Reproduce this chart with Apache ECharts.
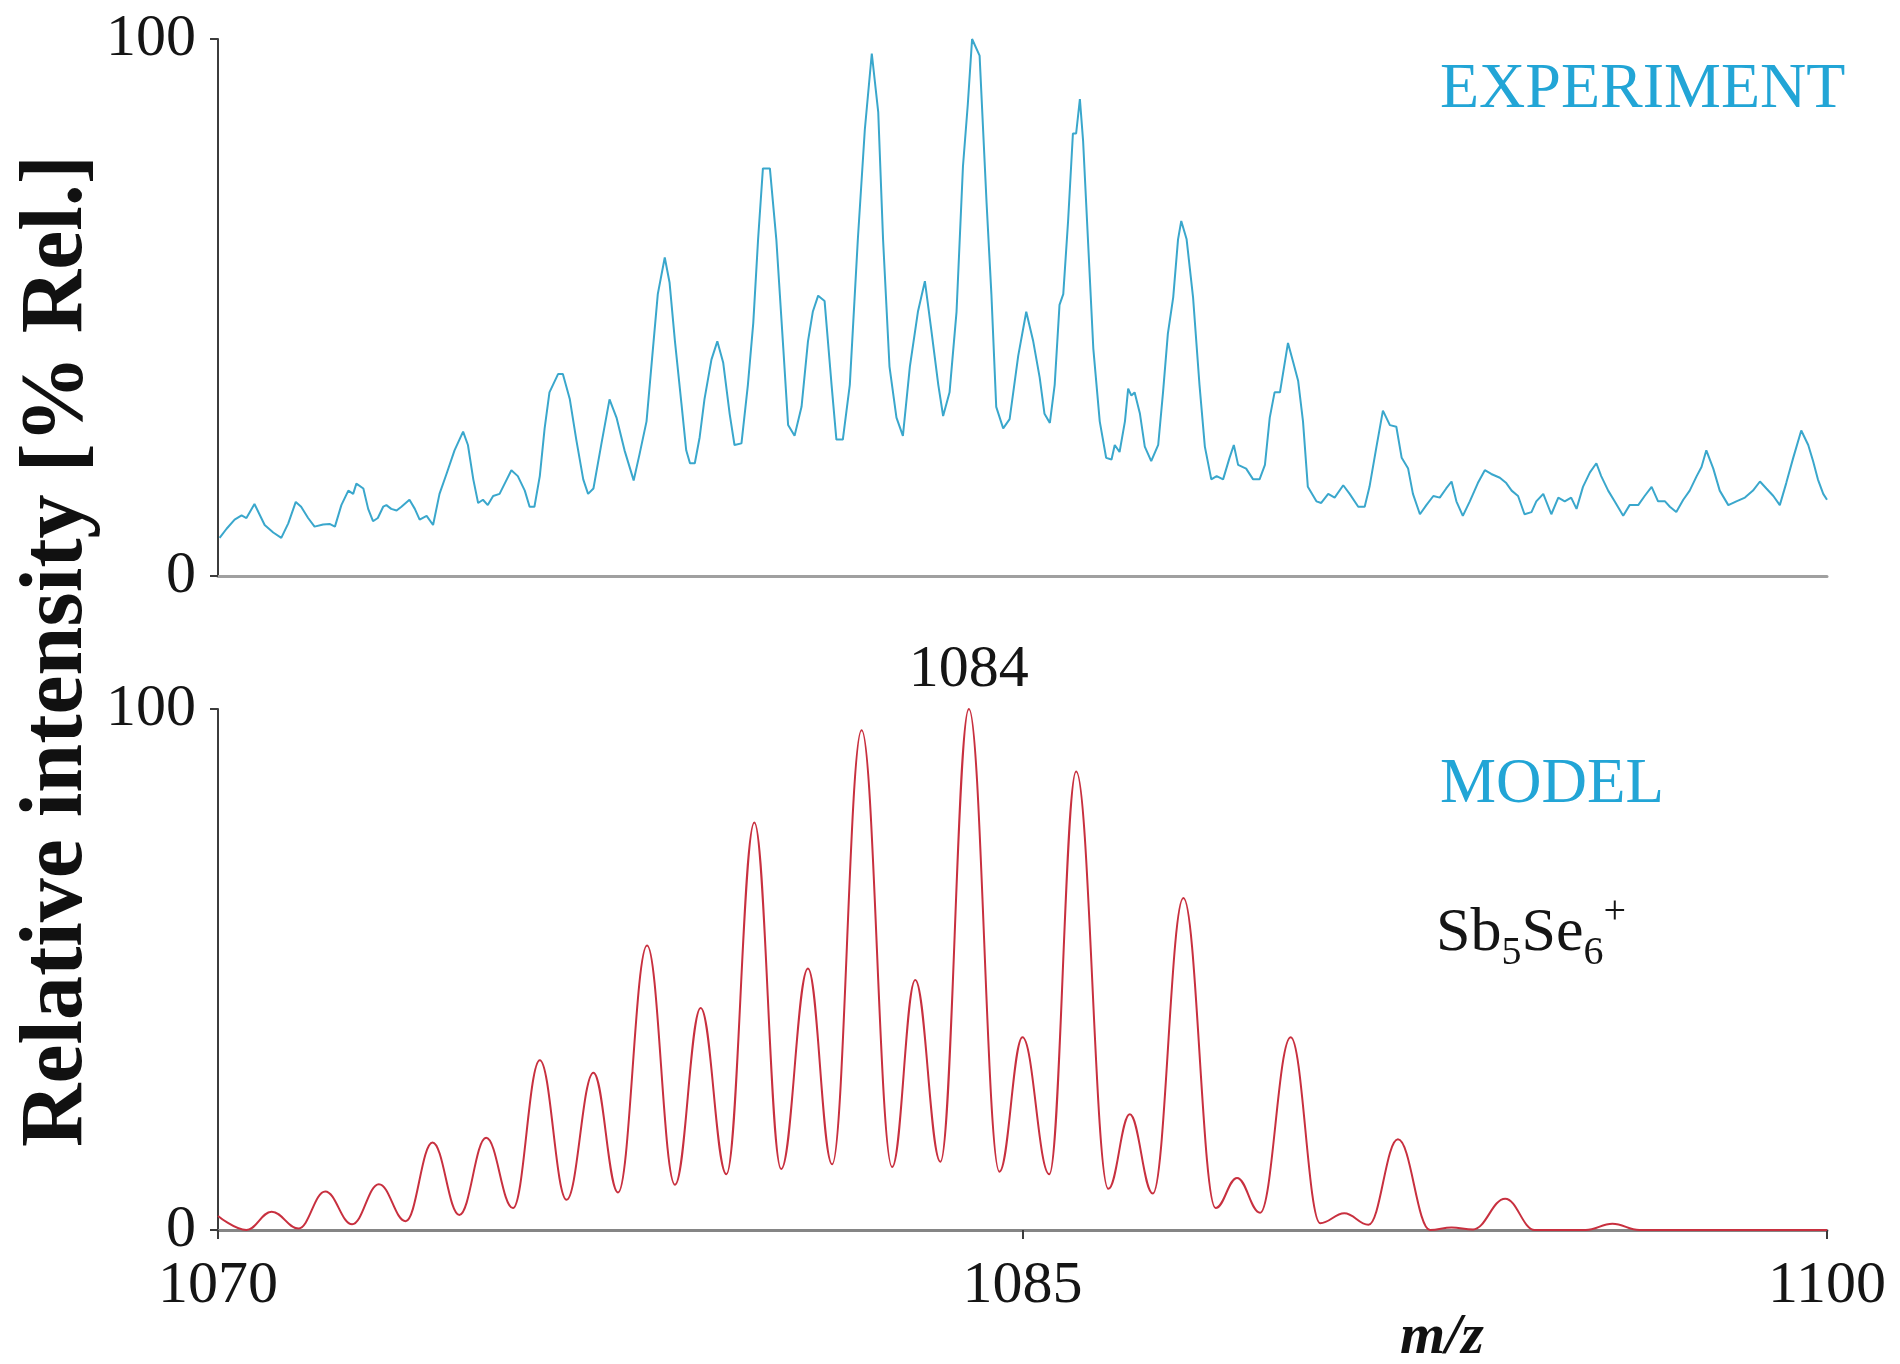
<!DOCTYPE html>
<html>
<head>
<meta charset="utf-8">
<script src="https://cdn.jsdelivr.net/npm/echarts@6/dist/echarts.min.js"></script>
<style>
  html, body { margin: 0; padding: 0; background: #ffffff; }
  #chart { width: 1900px; height: 1364px; }
</style>
</head>
<body>
<div id="chart"></div>
<script>
// Measured spectrum (m/z, relative intensity %)
const expMz = [
  1070.03, 1070.16, 1070.31, 1070.44, 1070.53, 1070.68, 1070.87, 1071.03, 1071.18, 1071.31,
  1071.45, 1071.55, 1071.68, 1071.80, 1071.96, 1072.08, 1072.18, 1072.30, 1072.43, 1072.52,
  1072.58, 1072.71, 1072.80, 1072.89, 1072.98, 1073.08, 1073.14, 1073.23, 1073.33, 1073.42,
  1073.57, 1073.67, 1073.76, 1073.89, 1074.01, 1074.13, 1074.26, 1074.41, 1074.57, 1074.66,
  1074.76, 1074.85, 1074.94, 1075.03, 1075.13, 1075.25, 1075.35, 1075.47, 1075.59, 1075.72,
  1075.81, 1075.90, 1076.00, 1076.09, 1076.18, 1076.34, 1076.43, 1076.56, 1076.68, 1076.81,
  1076.90, 1077.00, 1077.15, 1077.30, 1077.43, 1077.58, 1077.75, 1077.86, 1077.99, 1078.11,
  1078.20, 1078.33, 1078.42, 1078.52, 1078.64, 1078.73, 1078.80, 1078.89, 1078.98, 1079.07,
  1079.20, 1079.31, 1079.42, 1079.54, 1079.63, 1079.76, 1079.88, 1079.98, 1080.07, 1080.16,
  1080.29, 1080.41, 1080.54, 1080.63, 1080.75, 1080.88, 1081.00, 1081.09, 1081.19, 1081.31,
  1081.44, 1081.53, 1081.65, 1081.78, 1081.93, 1082.06, 1082.19, 1082.31, 1082.40, 1082.52,
  1082.65, 1082.77, 1082.90, 1083.05, 1083.18, 1083.30, 1083.43, 1083.52, 1083.64, 1083.77,
  1083.89, 1083.98, 1084.06, 1084.20, 1084.33, 1084.42, 1084.51, 1084.64, 1084.76, 1084.92,
  1085.07, 1085.20, 1085.32, 1085.41, 1085.51, 1085.60, 1085.69, 1085.76, 1085.85, 1085.94,
  1086.00, 1086.07, 1086.13, 1086.22, 1086.32, 1086.44, 1086.56, 1086.66, 1086.72, 1086.81,
  1086.91, 1086.97, 1087.03, 1087.09, 1087.19, 1087.28, 1087.40, 1087.53, 1087.62, 1087.71,
  1087.81, 1087.90, 1087.96, 1088.06, 1088.18, 1088.30, 1088.40, 1088.52, 1088.62, 1088.74,
  1088.86, 1088.94, 1089.02, 1089.17, 1089.30, 1089.42, 1089.52, 1089.61, 1089.70, 1089.80,
  1089.95, 1090.05, 1090.14, 1090.23, 1090.32, 1090.48, 1090.57, 1090.70, 1090.82, 1090.98,
  1091.10, 1091.26, 1091.38, 1091.47, 1091.60, 1091.72, 1091.85, 1091.97, 1092.07, 1092.19,
  1092.28, 1092.41, 1092.53, 1092.66, 1092.78, 1092.90, 1093.00, 1093.09, 1093.21, 1093.34,
  1093.49, 1093.62, 1093.74, 1093.90, 1094.02, 1094.12, 1094.24, 1094.36, 1094.49, 1094.58,
  1094.71, 1094.86, 1094.99, 1095.11, 1095.23, 1095.33, 1095.45, 1095.58, 1095.70, 1095.79,
  1095.92, 1096.04, 1096.20, 1096.32, 1096.48, 1096.60, 1096.73, 1096.85, 1096.98, 1097.07,
  1097.19, 1097.32, 1097.44, 1097.57, 1097.66, 1097.75, 1097.88, 1098.00, 1098.16, 1098.31,
  1098.47, 1098.62, 1098.75, 1098.87, 1099.00, 1099.12, 1099.24, 1099.37, 1099.52, 1099.65,
  1099.74, 1099.83, 1099.93, 1100.00
];
const expIntensity = [
  7.1, 8.8, 10.5, 11.3, 10.8, 13.4, 9.5, 8.1, 7.1, 9.8,
  13.8, 12.9, 10.8, 9.2, 9.6, 9.7, 9.2, 13.2, 15.9, 15.3,
  17.2, 16.3, 12.5, 10.2, 10.8, 12.9, 13.2, 12.5, 12.2, 12.9,
  14.2, 12.5, 10.5, 11.2, 9.5, 15.3, 19.0, 23.4, 26.9, 24.4,
  18.0, 13.6, 14.2, 13.2, 14.9, 15.3, 17.3, 19.7, 18.6, 15.9,
  12.9, 12.9, 18.6, 27.5, 34.2, 37.6, 37.6, 32.9, 25.4, 18.0,
  15.3, 16.3, 24.7, 32.9, 29.5, 23.4, 17.8, 22.7, 28.8, 42.4,
  52.5, 59.3, 54.6, 43.7, 32.2, 23.4, 21.0, 21.0, 25.8, 32.9,
  40.3, 43.7, 39.7, 30.2, 24.4, 24.7, 35.6, 47.1, 62.7, 75.9,
  75.9, 62.7, 42.4, 28.1, 26.1, 31.5, 43.7, 49.2, 52.2, 51.2,
  35.6, 25.4, 25.4, 35.6, 62.7, 83.1, 97.3, 86.4, 62.7, 39.0,
  29.5, 26.1, 39.0, 49.2, 54.9, 45.8, 35.6, 29.8, 34.2, 49.2,
  76.3, 87.8, 100.0, 96.9, 69.5, 52.5, 31.5, 27.5, 29.2, 41.0,
  49.2, 43.7, 37.0, 30.2, 28.5, 35.6, 50.5, 52.5, 66.1, 82.4,
  82.4, 88.8, 81.0, 62.7, 42.4, 28.8, 22.0, 21.7, 24.4, 23.1,
  28.8, 34.9, 33.6, 34.2, 30.2, 24.1, 21.4, 24.4, 34.2, 45.1,
  51.9, 62.7, 66.1, 62.7, 51.9, 35.6, 24.1, 18.0, 18.6, 18.0,
  22.0, 24.4, 20.7, 20.0, 18.0, 18.0, 20.7, 29.5, 34.2, 34.2,
  43.4, 39.7, 36.3, 28.8, 16.6, 13.9, 13.6, 15.3, 14.6, 16.9,
  15.3, 12.9, 12.9, 16.6, 24.1, 30.8, 28.1, 27.8, 22.0, 20.0,
  15.3, 11.5, 13.2, 14.9, 14.6, 16.3, 17.6, 13.9, 11.2, 13.9,
  17.3, 19.7, 19.0, 18.3, 17.3, 15.9, 14.9, 11.5, 11.9, 13.9,
  15.3, 11.5, 14.6, 13.9, 14.6, 12.5, 16.6, 19.3, 21.0, 18.6,
  15.9, 13.9, 11.2, 13.2, 13.2, 14.9, 16.6, 13.9, 13.9, 12.9,
  11.9, 14.2, 15.9, 18.6, 20.3, 23.4, 20.0, 15.9, 13.2, 13.9,
  14.6, 15.9, 17.6, 16.3, 14.9, 13.2, 17.3, 22.0, 27.1, 24.4,
  21.4, 18.0, 15.3, 14.2
];

// Simulated isotope pattern: peak tops and the troughs between them
const modelMz = [
  1070.00, 1070.53, 1071.00, 1071.50, 1072.00, 1072.50, 1073.00, 1073.50, 1074.00, 1074.50,
  1075.00, 1075.50, 1076.00, 1076.50, 1077.00, 1077.46, 1078.00, 1078.52, 1079.00, 1079.48,
  1080.00, 1080.50, 1081.00, 1081.45, 1082.00, 1082.57, 1083.00, 1083.47, 1084.00, 1084.57,
  1085.00, 1085.50, 1086.00, 1086.60, 1087.00, 1087.43, 1088.00, 1088.60, 1089.00, 1089.43,
  1090.00, 1090.55, 1091.00, 1091.45, 1092.00, 1092.60, 1093.00, 1093.40, 1094.00, 1094.55,
  1095.50, 1096.00, 1096.50, 1100.00
];
const modelIntensity = [
  2.7, 0.0, 3.5, 0.3, 7.4, 1.1, 8.8, 1.7, 16.8, 2.9,
  17.7, 4.2, 32.6, 5.8, 30.2, 7.2, 54.6, 8.7, 42.6, 10.7,
  78.2, 11.7, 50.2, 12.6, 95.9, 12.1, 48.0, 13.1, 100.0, 11.2,
  37.0, 10.7, 88.0, 7.9, 22.2, 7.0, 63.7, 4.2, 10.0, 3.3,
  37.0, 1.3, 3.2, 1.0, 17.4, 0.0, 0.5, 0.1, 6.0, 0.0,
  0.0, 1.2, 0.0, 0.0
];

const xTicks = [1070, 1085, 1100];
const yTicks = [0, 100];
const basePeakMz = 1084;
const basePeakLabel = '1084';

const SERIF = '"Liberation Serif", "Times New Roman", serif';
const CYAN = '#22a5d6';

const expData = expMz.map((m, i) => [m, expIntensity[i]]);
const modelData = modelMz.map((m, i) => [m, modelIntensity[i]]);
const basePeakValue = modelIntensity[modelMz.indexOf(basePeakMz)];

// text widths for placing the formula pieces
const measureCtx = document.createElement('canvas').getContext('2d');
function textWidth(str, size) {
  measureCtx.font = size + 'px ' + SERIF;
  return measureCtx.measureText(str).width;
}

function formulaGraphics(x0, yMid) {
  const big = 62, small = 40;
  const parts = [
    { t: 'Sb', s: big, dy: 0 },
    { t: '5', s: small, dy: 19 },
    { t: 'Se', s: big, dy: 0 },
    { t: '6', s: small, dy: 19 },
    { t: '+', s: small, dy: -22 }
  ];
  const out = [];
  let x = x0;
  parts.forEach(p => {
    out.push({
      type: 'text', x: x, y: yMid + p.dy,
      style: { text: p.t, font: p.s + 'px ' + SERIF, fill: '#151515',
               textAlign: 'left', textVerticalAlign: 'middle' }
    });
    x += textWidth(p.t, p.s);
  });
  return out;
}

const plainNumber = v => String(v);

const yAxisCommon = {
  type: 'value', min: 0, max: 100,
  axisLine: { show: true, onZero: false, lineStyle: { color: '#3c3c3c', width: 2 } },
  axisTick: { show: true, customValues: yTicks, length: 8, lineStyle: { color: '#3c3c3c', width: 2 } },
  axisLabel: { customValues: yTicks, formatter: plainNumber, fontFamily: SERIF, fontSize: 60, color: '#151515', margin: 22 },
  splitLine: { show: false }
};

const chart = echarts.init(document.getElementById('chart'), null, { renderer: 'canvas' });
chart.setOption({
  backgroundColor: '#ffffff',
  animation: false,
  grid: [
    { left: 218, right: 73, top: 39, height: 537 },
    { left: 218, right: 73, top: 709, height: 521 }
  ],
  xAxis: [
    {
      gridIndex: 0, type: 'value', min: 1070, max: 1100,
      axisLine: { onZero: false, lineStyle: { color: '#a0a0a0', width: 3 } },
      axisTick: { show: false }, axisLabel: { show: false }, splitLine: { show: false }
    },
    {
      gridIndex: 1, type: 'value', min: 1070, max: 1100,
      axisLine: { onZero: false, lineStyle: { color: '#858585', width: 3 } },
      axisTick: { show: true, customValues: xTicks, length: 9, lineStyle: { color: '#3c3c3c', width: 2 } },
      axisLabel: { customValues: xTicks, formatter: plainNumber, fontFamily: SERIF, fontSize: 60, color: '#151515', margin: 26 },
      splitLine: { show: false }
    }
  ],
  yAxis: [
    Object.assign({ gridIndex: 0 }, yAxisCommon),
    Object.assign({ gridIndex: 1 }, yAxisCommon)
  ],
  series: [
    {
      name: 'EXPERIMENT', type: 'line', xAxisIndex: 0, yAxisIndex: 0,
      data: expData, showSymbol: false, clip: false,
      lineStyle: { color: '#3aa7cc', width: 2 }
    },
    {
      name: 'MODEL', type: 'line', xAxisIndex: 1, yAxisIndex: 1,
      data: modelData, showSymbol: false, smooth: 0.4, smoothMonotone: 'x', clip: false,
      lineStyle: { color: '#c8303f', width: 2 },
      markPoint: {
        symbol: 'circle', symbolSize: 1,
        itemStyle: { color: 'rgba(0,0,0,0)' },
        data: [{ coord: [basePeakMz, basePeakValue] }],
        label: {
          show: true, position: 'top', distance: 8, formatter: basePeakLabel,
          fontFamily: SERIF, fontSize: 60, color: '#151515'
        }
      }
    }
  ],
  graphic: [
    {
      type: 'text', x: 58, y: 651, rotation: Math.PI / 2,
      style: { text: 'Relative intensity [% Rel.]', font: 'bold 88px ' + SERIF, fill: '#111111',
               textAlign: 'center', textVerticalAlign: 'middle' }
    },
    {
      type: 'text', x: 1440, y: 90,
      style: { text: 'EXPERIMENT', font: '64px ' + SERIF, fill: CYAN,
               textAlign: 'left', textVerticalAlign: 'middle' }
    },
    {
      type: 'text', x: 1440, y: 785,
      style: { text: 'MODEL', font: '63px ' + SERIF, fill: CYAN,
               textAlign: 'left', textVerticalAlign: 'middle' }
    },
    {
      type: 'text', x: 1442, y: 1338,
      style: { text: 'm/z', font: 'italic bold 58px ' + SERIF, fill: '#111111',
               textAlign: 'center', textVerticalAlign: 'middle' }
    }
  ].concat(formulaGraphics(1436, 934))
});
</script>
</body>
</html>
